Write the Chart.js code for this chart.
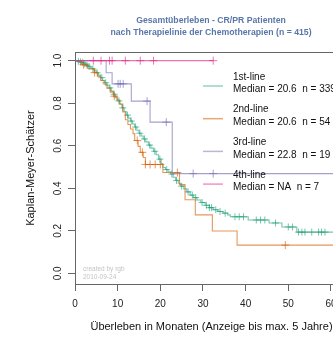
<!DOCTYPE html>
<html>
<head>
<meta charset="utf-8">
<script src="https://cdn.jsdelivr.net/npm/chart.js@4.4.0/dist/chart.umd.min.js"></script>
<style>
  html, body { margin: 0; padding: 0; background: #fff; overflow: hidden; }
  canvas { display: block; }
</style>
</head>
<body>
<canvas id="km" width="422" height="341"></canvas>
<script>
// axis ticks
const xTicks = [0, 10, 20, 30, 40, 50, 60];
const yTicks = [0, 0.2, 0.4, 0.6, 0.8, 1.0];

// legend texts
const groupNames = ["1st-line", "2nd-line", "3rd-line", "4th-line"];
const groupMedians = ["20.6", "20.6", "22.8", "NA"];
const groupCounts = [339, 54, 19, 7];

// 1st-line (teal): event times (months) and survival after each event
const line1Times = [0.5, 1.0, 1.5, 2.0, 2.5, 3.0, 3.5, 4.0, 4.5, 5.0, 5.5, 6.0, 6.5, 7.0, 7.5, 8.0,
  8.5, 9.0, 9.5, 10.0, 10.5, 11.0, 11.5, 12.0, 12.5, 13.0, 13.5, 14.0, 14.5, 15.0, 15.5, 16.0,
  16.6, 17.2, 17.8, 18.4, 19.0, 19.6, 20.2, 20.6, 21.2, 21.8, 22.4, 23.0, 23.6, 24.2, 24.8,
  25.5, 26.2, 27.0, 27.8, 28.6, 29.5, 30.5, 31.5, 32.4, 33.5, 34.7, 35.8, 36.4, 40.6, 45.5, 48.5, 52.0];
const line1Surv = [0.997, 0.994, 0.991, 0.985, 0.979, 0.973, 0.967, 0.961, 0.952, 0.943, 0.932, 0.920, 0.907, 0.896, 0.884, 0.872,
  0.857, 0.842, 0.826, 0.811, 0.795, 0.778, 0.761, 0.744, 0.730, 0.716, 0.702, 0.688, 0.673, 0.659, 0.646, 0.632,
  0.618, 0.603, 0.589, 0.574, 0.558, 0.537, 0.516, 0.498, 0.488, 0.478, 0.467, 0.452, 0.437, 0.424, 0.410,
  0.397, 0.383, 0.368, 0.356, 0.345, 0.333, 0.320, 0.309, 0.299, 0.291, 0.283, 0.275, 0.266, 0.251, 0.237, 0.218, 0.194];
const line1Censor = [0.8, 1.3, 1.8, 2.3, 2.8, 3.3, 4.2, 5.2, 6.3, 7.2, 8.2, 9.2, 10.3, 11.2, 12.3, 13.2, 14.2,
  15.2, 16.3, 17.5, 18.7, 19.9, 21.5, 22.7, 23.8, 25.0, 26.5, 27.5, 28.3, 29.8, 30.8, 31.5, 32.0, 33.0,
  34.0, 35.2, 37.5, 38.5, 39.5, 42.5, 43.5, 44.5, 47.0, 50.0, 51.0, 52.4, 53.2, 53.9, 55.5, 57.1, 57.8, 58.6];

// 2nd-line (orange)
const line2Times = [1.5, 3.0, 4.5, 5.3, 6.0, 6.8, 7.5, 8.3, 9.0, 9.8, 10.5, 11.2, 11.8, 12.4, 13.0, 13.6,
  14.0, 14.8, 15.3, 16.0, 16.5, 20.6, 24.5, 25.8, 28.2, 32.2, 38.0];
const line2Surv = [0.981, 0.963, 0.944, 0.926, 0.907, 0.889, 0.870, 0.852, 0.833, 0.815, 0.796, 0.759, 0.722, 0.700, 0.679, 0.657,
  0.625, 0.597, 0.569, 0.545, 0.512, 0.474, 0.417, 0.346, 0.275, 0.199, 0.133];
const line2Censor = [2.0, 4.6, 9.2, 14.6, 15.8, 16.5, 17.6, 18.8, 20.0, 24.0, 49.3];

// 3rd-line (purple)
const line3Times = [7.3, 8.7, 13.2, 17.6, 22.8];
const line3Surv = [0.943, 0.891, 0.810, 0.711, 0.469];
const line3Censor = [10.1, 10.6, 11.3, 16.9, 21.4, 27.7, 32.4];

// 4th-line (pink): no events
const line4Times = [];
const line4Surv = [];
const line4Censor = [4.3, 6.1, 8.1, 8.7, 11.8, 15.3, 18.4, 32.4];

const lastFollowUp = [64, 64, 64, 32.4];
const colors = ["rgba(27,158,119,0.6)", "rgba(217,95,2,0.65)", "rgba(117,112,179,0.65)", "rgba(231,41,138,0.65)"];
const legendColors = ["rgba(27,158,119,0.45)", "rgba(217,95,2,0.55)", "rgba(117,112,179,0.5)", "rgba(231,41,138,0.5)"];

const FONT = "'Liberation Sans', Arial, Helvetica, sans-serif";

function survAt(times, surv, t) {
  var s = 1;
  for (var i = 0; i < times.length; i++) {
    if (times[i] <= t) s = surv[i];
  }
  return s;
}

function kmPoints(times, surv, end) {
  var pts = [{x: 0, y: 1}];
  for (var i = 0; i < times.length; i++) pts.push({x: times[i], y: surv[i]});
  pts.push({x: end, y: survAt(times, surv, end)});
  return pts;
}

function censorPoints(times, surv, censor) {
  return censor.map(function (c) { return {x: c, y: survAt(times, surv, c)}; });
}

const allTimes = [line1Times, line2Times, line3Times, line4Times];
const allSurv = [line1Surv, line2Surv, line3Surv, line4Surv];
const allCensor = [line1Censor, line2Censor, line3Censor, line4Censor];

var datasets = [];
for (var g = 0; g < 4; g++) {
  datasets.push({
    label: groupNames[g],
    data: kmPoints(allTimes[g], allSurv[g], lastFollowUp[g]),
    stepped: true,
    borderColor: colors[g],
    borderWidth: 1.1,
    pointRadius: 0,
    fill: false,
    order: 20 - g * 2
  });
  datasets.push({
    label: groupNames[g] + " censored",
    data: censorPoints(allTimes[g], allSurv[g], allCensor[g]),
    showLine: false,
    pointStyle: "cross",
    pointRadius: g == 0 ? 3.5 : 4,
    borderColor: colors[g],
    borderWidth: 1,
    order: 19 - g * 2
  });
}

// R-style box, rotated y labels, legend and footnote
const rPlot = {
  id: "rPlot",
  beforeDatasetsDraw: function (chart) {
    var a = chart.chartArea, ctx = chart.ctx;
    ctx.save();
    ctx.strokeStyle = "#666";
    ctx.lineWidth = 1;
    ctx.strokeRect(Math.round(a.left) + 0.5, Math.round(a.top) + 0.5, Math.round(a.right - a.left), Math.round(a.bottom - a.top));
    ctx.fillStyle = "#c4c4c4";
    ctx.font = "6.5px " + FONT;
    ctx.textBaseline = "middle";
    ctx.fillText("created by rgb", 83, 269);
    ctx.fillText("2010-09-24", 83, 277);
    ctx.restore();
  },
  afterDraw: function (chart) {
    var ctx = chart.ctx, y = chart.scales.y;
    ctx.save();
    ctx.fillStyle = "#222";
    ctx.font = "10px " + FONT;
    ctx.textAlign = "center";
    ctx.textBaseline = "middle";
    yTicks.forEach(function (v) {
      ctx.save();
      ctx.translate(58, y.getPixelForValue(v));
      ctx.rotate(-Math.PI / 2);
      ctx.fillText(v.toFixed(1), 0, 0);
      ctx.restore();
    });

    ctx.textAlign = "left";
    for (var g = 0; g < 4; g++) {
      var top = 77 + g * 32.7;
      ctx.strokeStyle = legendColors[g];
      ctx.lineWidth = 1.5;
      ctx.beginPath();
      ctx.moveTo(203, top + 9);
      ctx.lineTo(223, top + 9);
      ctx.stroke();
      ctx.fillStyle = "#111";
      ctx.fillText(groupNames[g], 233, top);
      ctx.fillText("Median = " + groupMedians[g] + "  n = " + groupCounts[g], 233, top + 12.5);
    }
    ctx.restore();
  }
};

new Chart(document.getElementById("km").getContext("2d"), {
  type: "line",
  data: {datasets: datasets},
  options: {
    responsive: false,
    animation: false,
    events: [],
    layout: {padding: 0},
    plugins: {
      legend: {display: false},
      tooltip: {enabled: false},
      title: {
        display: true,
        text: ["Gesamtüberleben - CR/PR Patienten", "nach Therapielinie der Chemotherapien (n = 415)"],
        color: "#5a76a8",
        font: {family: FONT, size: 8.7, weight: "bold", lineHeight: 1.4},
        padding: {top: 14.7, bottom: 13.1}
      }
    },
    scales: {
      x: {
        type: "linear",
        min: 0,
        max: 64,
        afterBuildTicks: function (scale) { scale.ticks = xTicks.map(function (v) { return {value: v}; }); },
        afterFit: function (scale) { scale.height = 57; },
        grid: {drawOnChartArea: false, drawTicks: true, tickLength: 7, color: "#666"},
        border: {display: false},
        ticks: {color: "#222", font: {family: FONT, size: 10}, padding: 7, maxRotation: 0},
        title: {
          display: true,
          text: "Überleben in Monaten (Anzeige bis max. 5 Jahre)",
          color: "#111",
          font: {family: FONT, size: 11},
          padding: {top: 0, bottom: 7.4}
        }
      },
      y: {
        type: "linear",
        min: -0.05,
        max: 1.04,
        afterBuildTicks: function (scale) { scale.ticks = yTicks.map(function (v) { return {value: v}; }); },
        afterFit: function (scale) { scale.width = 75; },
        grid: {drawOnChartArea: false, drawTicks: true, tickLength: 7, color: "#666"},
        border: {display: false},
        ticks: {color: "rgba(0,0,0,0)", font: {family: FONT, size: 10}},
        title: {
          display: true,
          text: "Kaplan-Meyer-Schätzer",
          color: "#111",
          font: {family: FONT, size: 11},
          padding: {top: 24.4, bottom: 0}
        }
      },
      // empty right margin (outer margin of the original plot)
      margin: {
        type: "linear",
        position: "right",
        min: 0,
        max: 1,
        afterFit: function (scale) { scale.width = 74; },
        grid: {display: false},
        border: {display: false},
        ticks: {display: false}
      }
    }
  },
  plugins: [rPlot]
});
</script>
</body>
</html>
